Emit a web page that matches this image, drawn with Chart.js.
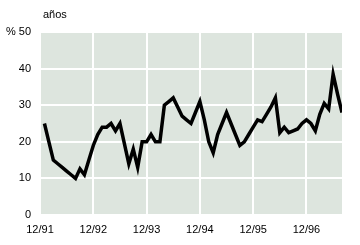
<!DOCTYPE html>
<html><head><meta charset="utf-8">
<style>html,body{margin:0;padding:0;background:#fff}#w{width:360px;height:245px}</style>
<script src="https://cdn.jsdelivr.net/npm/chart.js@4/dist/chart.umd.min.js"></script>
</head><body><div id="w"><canvas id="c" width="360" height="245"></canvas></div>
<script>
const unitLabel = 'años';
const xTickLabels = ['12/91','12/92','12/93','12/94','12/95','12/96'];
const yTickLabels = ['0','10','20','30','40','% 50'];
// months since 12/91 (1 = 1/92 ... 68 = 8/97)
const monthIndex = [1,2,3,4,5,6,7,8,9,10,11,12,13,14,15,16,17,18,19,20,21,22,23,24,25,26,27,28,29,30,31,32,33,34,
  35,36,37,38,39,40,41,42,43,44,45,46,47,48,49,50,51,52,53,54,55,56,57,58,59,60,61,62,63,64,65,66,67,68];
const values = [25,20,15,14,13,12,11,10,12.6,11,15,19,22,24,24,25,23,25,19.5,14,18,13,20,20,22,20,20,30,31,32,29.5,27,26,25,
  28,31,26,20,17,22,25,28,25,22,19,20,22,24,26,25.5,27.5,29.5,32,22.5,24,22.5,23,23.5,25,26,25,23,27.5,30.5,29,38.5,33,28];

const FONT = {family: '"Liberation Sans", Arial, sans-serif', size: 11};

const bgPlugin = {
  id: 'bg',
  beforeDraw(chart) {
    const {ctx, chartArea: a} = chart;
    ctx.save();
    ctx.fillStyle = 'rgb(221,229,222)';
    ctx.fillRect(a.left, a.top, a.right - a.left, a.bottom - a.top);
    ctx.restore();
  },
  afterDraw(chart) {
    const {ctx, chartArea: a} = chart;
    ctx.save();
    ctx.fillStyle = '#000';
    ctx.font = '11px "Liberation Sans", Arial, sans-serif';
    ctx.textBaseline = 'middle';
    ctx.fillText(unitLabel, a.left + 3, 15);
    ctx.restore();
  }
};

new Chart(document.getElementById('c'), {
  type: 'line',
  data: {
    datasets: [{
      data: monthIndex.map((m, i) => ({x: m, y: values[i]})),
      borderColor: '#000',
      borderWidth: 3.5,
      pointRadius: 0,
      tension: 0,
      borderJoinStyle: 'miter',
      fill: false
    }]
  },
  options: {
    responsive: false,
    animation: false,
    devicePixelRatio: 1,
    layout: {padding: {left: 0, top: 32, right: 18, bottom: 0}},
    plugins: {legend: {display: false}, tooltip: {enabled: false}, title: {display: false}},
    scales: {
      x: {
        type: 'linear', min: 0, max: 68,
        grid: {color: '#fff', lineWidth: 2, drawTicks: false},
        border: {display: false},
        ticks: {
          stepSize: 12, includeBounds: false, color: '#000', font: FONT, padding: 8,
          maxRotation: 0, autoSkip: false,
          callback: v => xTickLabels[Math.round(v / 12)] ?? ''
        },
        afterFit(s) { s.height = 30; }
      },
      y: {
        min: 0, max: 50,
        grid: {color: '#fff', lineWidth: 2, drawTicks: false},
        border: {display: false},
        ticks: {
          stepSize: 10, color: '#000', font: FONT, padding: 9,
          callback: v => yTickLabels[Math.round(v / 10)] ?? ''
        },
        afterFit(s) { s.width = 40; }
      }
    }
  },
  plugins: [bgPlugin]
});
</script>
</body></html>
